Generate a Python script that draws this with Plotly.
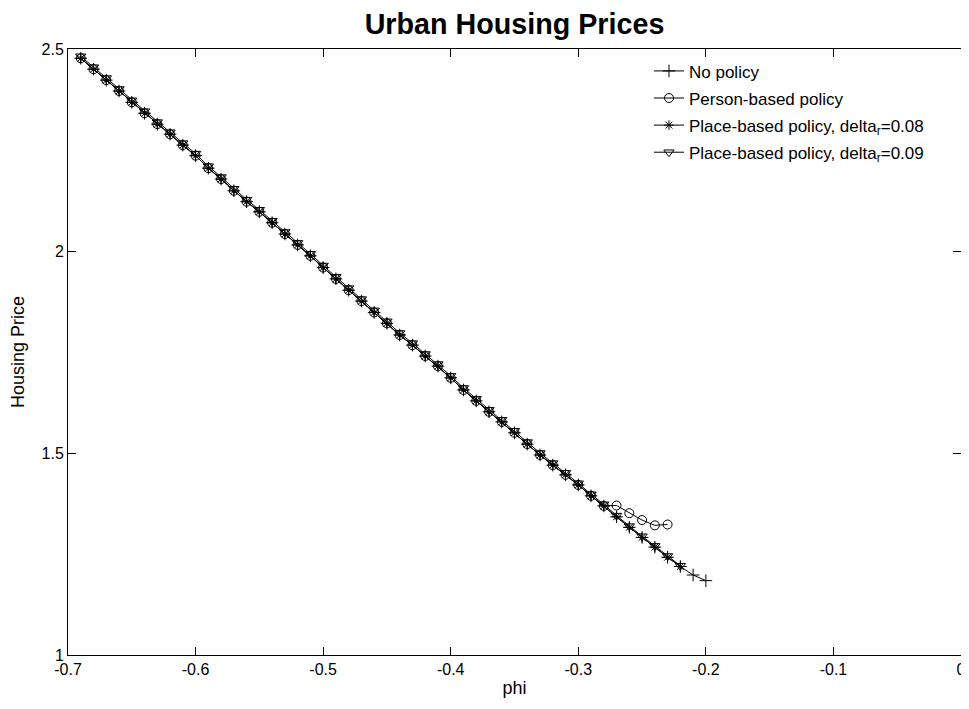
import plotly.graph_objects as go

phi_no = [-0.69, -0.68, -0.67, -0.66, -0.65, -0.64, -0.63, -0.62, -0.61, -0.60,
          -0.59, -0.58, -0.57, -0.56, -0.55, -0.54, -0.53, -0.52, -0.51, -0.50,
          -0.49, -0.48, -0.47, -0.46, -0.45, -0.44, -0.43, -0.42, -0.41, -0.40,
          -0.39, -0.38, -0.37, -0.36, -0.35, -0.34, -0.33, -0.32, -0.31, -0.30,
          -0.29, -0.28, -0.27, -0.26, -0.25, -0.24, -0.23, -0.22, -0.21, -0.20]
price_no = [2.477, 2.450, 2.423, 2.396, 2.368, 2.341, 2.314, 2.289, 2.262, 2.236,
            2.205, 2.178, 2.149, 2.122, 2.097, 2.070, 2.042, 2.015, 1.988, 1.959,
            1.931, 1.903, 1.876, 1.848, 1.821, 1.792, 1.767, 1.740, 1.715, 1.686,
            1.656, 1.629, 1.602, 1.577, 1.550, 1.522, 1.495, 1.470, 1.446, 1.421,
            1.394, 1.369, 1.342, 1.316, 1.291, 1.267, 1.242, 1.219, 1.198, 1.184]

phi_person = phi_no[:47]
price_person = [2.477, 2.450, 2.423, 2.396, 2.368, 2.341, 2.314, 2.289, 2.262, 2.236,
                2.205, 2.178, 2.149, 2.122, 2.097, 2.070, 2.042, 2.015, 1.988, 1.959,
                1.931, 1.903, 1.876, 1.848, 1.821, 1.792, 1.767, 1.740, 1.715, 1.686,
                1.656, 1.629, 1.602, 1.577, 1.550, 1.522, 1.495, 1.470, 1.446, 1.421,
                1.394, 1.369, 1.370, 1.351, 1.334, 1.321, 1.323]

phi_place08 = phi_no[:48]
price_place08 = [2.477, 2.450, 2.423, 2.396, 2.368, 2.341, 2.314, 2.289, 2.262, 2.236,
                 2.205, 2.178, 2.149, 2.122, 2.097, 2.070, 2.042, 2.015, 1.988, 1.959,
                 1.931, 1.903, 1.876, 1.848, 1.821, 1.792, 1.767, 1.740, 1.715, 1.686,
                 1.656, 1.629, 1.602, 1.577, 1.550, 1.522, 1.495, 1.470, 1.446, 1.421,
                 1.394, 1.369, 1.342, 1.316, 1.291, 1.267, 1.242, 1.219]

phi_place09 = phi_no[:48]
price_place09 = [2.482, 2.455, 2.428, 2.401, 2.373, 2.346, 2.319, 2.294, 2.267, 2.241,
                 2.210, 2.183, 2.154, 2.127, 2.102, 2.075, 2.047, 2.020, 1.993, 1.964,
                 1.936, 1.908, 1.881, 1.853, 1.826, 1.797, 1.772, 1.745, 1.720, 1.691,
                 1.661, 1.634, 1.607, 1.582, 1.555, 1.527, 1.500, 1.475, 1.451, 1.425,
                 1.398, 1.373, 1.345, 1.319, 1.294, 1.270, 1.245, 1.221]

x_ticks = [-0.7, -0.6, -0.5, -0.4, -0.3, -0.2, -0.1, 0]
x_tick_text = ["-0.7", "-0.6", "-0.5", "-0.4", "-0.3", "-0.2", "-0.1", "0"]
y_ticks = [1, 1.5, 2, 2.5]
y_tick_text = ["1", "1.5", "2", "2.5"]

FONT = "Liberation Sans, Arial, sans-serif"

fig = go.Figure()

def add(x, y, name, symbol, size):
    fig.add_trace(go.Scatter(
        x=x, y=y, name=name, legendgroup=name, mode="lines+markers",
        line=dict(color="black", width=1),
        marker=dict(symbol=symbol, size=size, color="black",
                    line=dict(color="black", width=1)),
    ))

add(phi_no, price_no, "No policy", "cross-thin-open", 9)
add(phi_person, price_person, "Person-based policy", "circle-open", 9)
add(phi_place08, price_place08, "Place-based policy, delta<sub>r</sub>=0.08", "asterisk-open", 8)
add(phi_place09, price_place09, "Place-based policy, delta<sub>r</sub>=0.09", "triangle-down-open", 9)

axis_common = dict(
    showgrid=False, zeroline=False, showline=True, linecolor="black", linewidth=1,
    mirror="ticks", ticks="inside", ticklen=8, tickcolor="black", tickwidth=1,
    tickfont=dict(family=FONT, size=16, color="black"),
    automargin=False,
)

fig.update_xaxes(range=[-0.7, 0], tickvals=x_ticks, ticktext=x_tick_text,
                 ticklabelstandoff=0,
                 title=dict(text="phi", font=dict(family=FONT, size=18, color="black"), standoff=4),
                 **axis_common)
fig.update_yaxes(range=[1, 2.5], tickvals=y_ticks, ticktext=y_tick_text,
                 title=dict(text="Housing Price", font=dict(family=FONT, size=18, color="black"), standoff=20),
                 **axis_common)

# the page body adds an 8px margin, so the figure is kept 8px smaller than the window
fig.update_layout(
    width=961, height=692,
    margin=dict(l=60, r=8, t=41, b=45),
    paper_bgcolor="white", plot_bgcolor="white",
    title=dict(text="<b>Urban Housing Prices</b>", x=0.5, xanchor="center",
               y=0.9776, yanchor="middle", xref="paper",
               font=dict(family=FONT, size=28.7, color="black")),
    font=dict(family=FONT, color="black"),
    legend=dict(x=0.6506, y=0.9928, xanchor="left", yanchor="top",
                bgcolor="rgba(255,255,255,0)", borderwidth=0,
                font=dict(family=FONT, size=17, color="black"),
                tracegroupgap=2, itemwidth=30),
    showlegend=True,
)

fig.write_html("out.html")
